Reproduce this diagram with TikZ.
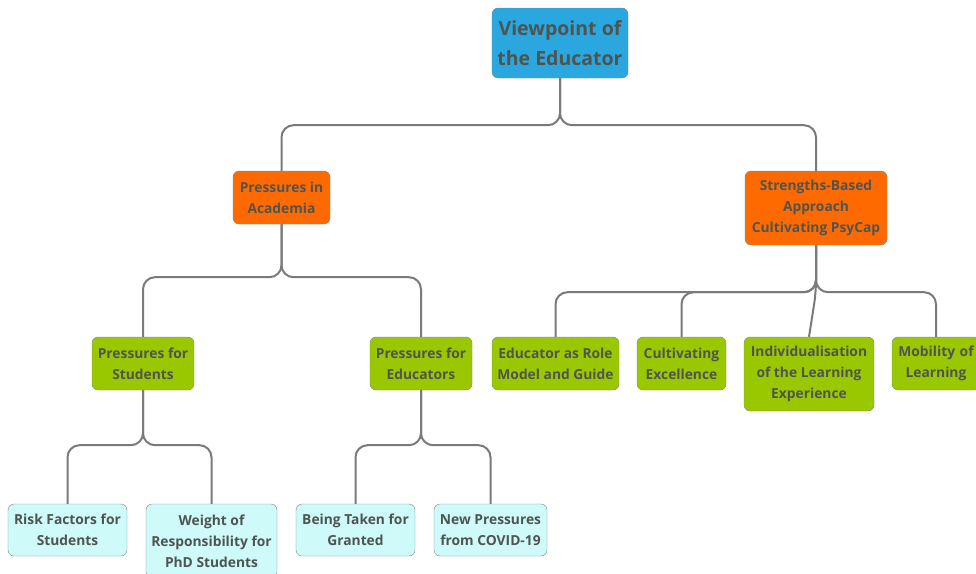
\documentclass[tikz,border=0pt]{standalone}
\usepackage{fontspec}
\setmainfont{Open Sans}
\usetikzlibrary{positioning}

\definecolor{rootblue}{HTML}{2AA7DF}
\definecolor{topicorange}{HTML}{FF6A00}
\definecolor{subgreen}{HTML}{99C800}
\definecolor{leafcyan}{HTML}{CEFAFA}
\definecolor{boxline}{HTML}{7A8A80}
\definecolor{linegray}{HTML}{7A7A7A}
\definecolor{txtgray}{HTML}{4F5450}

\tikzset{
  box/.style={draw=boxline, rounded corners=6pt, align=center, inner sep=0pt,
    text=txtgray, font=\bfseries\fontsize{13.8}{21}\selectfont},
  rootbox/.style={box, fill=rootblue, font=\bfseries\fontsize{19.5}{30}\selectfont},
  topicbox/.style={box, fill=topicorange},
  subbox/.style={box, fill=subgreen},
  leafbox/.style={box, fill=leafcyan},
  branch/.style={draw=linegray, line width=2pt, rounded corners=12pt},
}

\begin{document}
\begin{tikzpicture}[x=1pt,y=-1pt]

	\useasboundingbox[fill=white] (0,0) rectangle (976,573);

	% root
	\node[rootbox, minimum width=136pt, minimum height=70pt] (root) at (560,43) {Viewpoint of\\the Educator};

	% level 1
	\node[topicbox, minimum width=97pt, minimum height=53pt] (acad) at (281.5,197.5) {Pressures in\\Academia};
	\node[topicbox, minimum width=142pt, minimum height=74pt] (strength) at (816,208) {Strengths-Based\\Approach\\Cultivating PsyCap};

	% level 2 (academia)
	\node[subbox, minimum width=102pt, minimum height=53pt] (students) at (143,363.5) {Pressures for\\Students};
	\node[subbox, minimum width=102pt, minimum height=53pt] (educators) at (421,363.5) {Pressures for\\Educators};

	% level 2 (strengths)
	\node[subbox, minimum width=127pt, minimum height=53pt] (rolemodel) at (555.5,363.5) {Educator as Role\\Model and Guide};
	\node[subbox, minimum width=89pt, minimum height=53pt] (excellence) at (681.5,363.5) {Cultivating\\Excellence};
	\node[subbox, minimum width=130pt, minimum height=74pt] (indiv) at (809,374) {Individualisation\\of the Learning\\Experience};
	\node[subbox, minimum width=88pt, minimum height=53pt, text width=88pt] (mobility) at (936,363.5) {Mobility of\\Learning};

	% level 3
	\node[leafbox, minimum width=119pt, minimum height=52pt] (risk) at (67.5,530) {Risk Factors for\\Students};
	\node[leafbox, minimum width=131pt, minimum height=74pt] (weight) at (211.5,541) {Weight of\\Responsibility for\\PhD Students};
	\node[leafbox, minimum width=119pt, minimum height=52pt] (granted) at (355.5,530) {Being Taken for\\Granted};
	\node[leafbox, minimum width=113pt, minimum height=52pt] (covid) at (490.5,530) {New Pressures\\from COVID-19};

	% connectors
	\draw[branch] (root.south) -- ++(0,47) -| (acad.north);
	\draw[branch] (root.south) -- ++(0,47) -| (strength.north);

	\draw[branch] (acad.south) -- ++(0,53) -| (students.north);
	\draw[branch] (acad.south) -- ++(0,53) -| (educators.north);

	\draw[branch] (strength.south) -- ++(0,47) -| (rolemodel.north);
	\draw[branch] (strength.south) -- ++(0,47) -| (excellence.north);
	\draw[branch] (strength.south) -- ++(0,47) -- (indiv.north);
	\draw[branch] (strength.south) -- ++(0,47) -| (mobility.north);

	\draw[branch] (students.south) -- ++(0,55) -| (risk.north);
	\draw[branch] (students.south) -- ++(0,55) -| (weight.north);

	\draw[branch] (educators.south) -- ++(0,55) -| (granted.north);
	\draw[branch] (educators.south) -- ++(0,55) -| (covid.north);

\end{tikzpicture}
\end{document}
